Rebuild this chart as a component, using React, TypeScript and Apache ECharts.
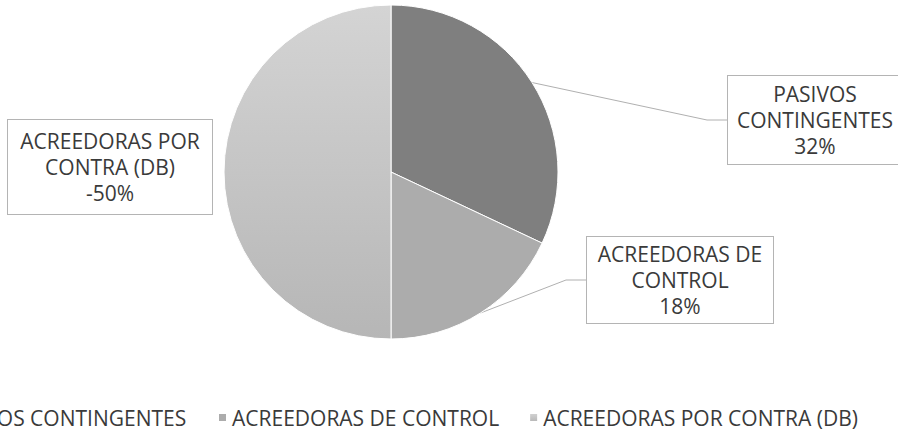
import React, { useEffect, useRef } from "react";
import * as echarts from "echarts";

const categories = ["PASIVOS CONTINGENTES", "ACREEDORAS DE CONTROL", "ACREEDORAS POR CONTRA (DB)"];
const labelLines = ["PASIVOS\nCONTINGENTES", "ACREEDORAS DE\nCONTROL", "ACREEDORAS POR\nCONTRA (DB)"];
const values = [32, 18, -50];
const colors = ["#7f7f7f", "#acacac", "#c6c6c6"];

// label box layout: center x, center y, width, vertical padding
const boxCx = [815, 680, 110];
const boxCy = [120, 280, 167];
const boxW = [174, 186, 204];
const boxPadV = [5, 4, 8];
const showLeader = [true, true, false];

export default function App() {
  const ref = useRef<HTMLDivElement>(null);
  useEffect(() => {
    document.body.style.margin = "0";
    const chart = echarts.init(ref.current!, undefined, { renderer: "svg" });
    const font = "'Open Sans', 'Noto Sans', sans-serif";
    const data = categories.map((name, i) => ({
      name,
      value: Math.abs(values[i]),
      itemStyle: {
        color:
          i === 2
            ? new echarts.graphic.LinearGradient(0, 0, 0, 1, [
                { offset: 0, color: "#d4d4d4" },
                { offset: 1, color: "#b6b6b6" },
              ])
            : colors[i],
      },
      label: {
        width: boxW[i] - 8,
        padding: [boxPadV[i], 4, boxPadV[i], 4],
      },
      labelLine: { show: showLeader[i] },
    }));
    const legendBase = {
      orient: "horizontal",
      top: 402,
      width: 1100,
      itemWidth: 9,
      itemHeight: 9,
      itemGap: 29,
      icon: "rect",
      textStyle: { fontFamily: font, fontSize: 21, color: "#3a3a3a" },
    };
    chart.setOption({
      animation: false,
      textStyle: { fontFamily: font },
      color: colors,
      legend: [
        { ...legendBase, left: -79, data: [categories[0]] },
        { ...legendBase, left: 212, data: [categories[1], categories[2]] },
      ],
      series: [
        {
          type: "pie",
          center: [391, 172],
          radius: 167,
          startAngle: 90,
          clockwise: true,
          data,
          itemStyle: { borderColor: "#ffffff", borderWidth: 1 },
          label: {
            show: true,
            formatter: (p: any) => `${labelLines[p.dataIndex]}\n${values[p.dataIndex]}%`,
            fontFamily: font,
            fontSize: 21,
            lineHeight: 26,
            color: "#3a3a3a",
            align: "center",
            backgroundColor: "#ffffff",
            borderColor: "#b4b4b4",
            borderWidth: 1,
          },
          labelLine: {
            show: true,
            length: 20,
            length2: 20,
            lineStyle: { color: "#b0b0b0", width: 1 },
          },
          labelLayout: (p: any) => ({
            x: boxCx[p.dataIndex],
            y: boxCy[p.dataIndex],
            align: "center",
            verticalAlign: "middle",
          }),
        },
      ],
    });
    return () => chart.dispose();
  }, []);
  return <div ref={ref} style={{ width: 898, height: 430 }} />;
}
